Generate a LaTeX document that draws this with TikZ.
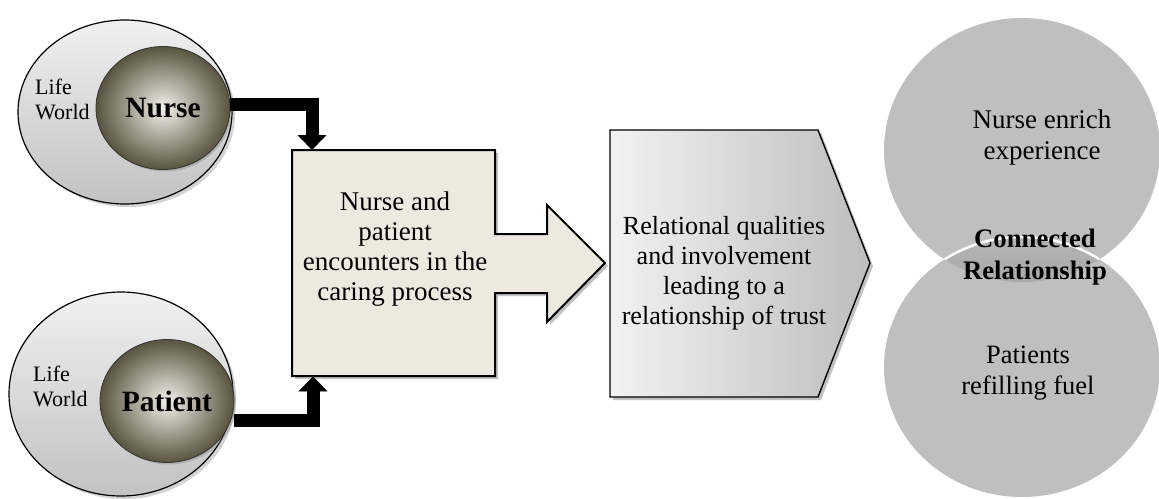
\documentclass[tikz,border=0pt]{standalone}
\usepackage{fontspec}
\setmainfont{Liberation Serif}
\usetikzlibrary{arrows.meta,calc,shapes.geometric,shadows}
\definecolor{boxfill}{HTML}{ECE9DF}
\definecolor{lwtop}{HTML}{F0F0F0}
\definecolor{lwbot}{HTML}{C2C2C2}
\definecolor{coreout}{HTML}{58543F}
\definecolor{corein}{HTML}{F2F1EA}
\definecolor{pentl}{HTML}{F2F2F2}
\definecolor{pentr}{HTML}{BDBDBD}
\definecolor{circ}{HTML}{BFBFBF}
\definecolor{lens}{HTML}{A2A2A2}
\begin{document}
\begin{tikzpicture}[x=1pt,y=-1pt,
  lifeworld/.style={ellipse, draw=black, line width=1.2pt, top color=lwtop, bottom color=lwbot,
     inner sep=0pt, drop shadow={shadow xshift=3pt, shadow yshift=-3pt, opacity=0.35}},
  core/.style={ellipse, draw=black!80, line width=0.8pt, inner color=corein, outer color=coreout,
     inner sep=0pt, minimum width=134pt, minimum height=123pt,
     font=\fontsize{29.5}{32}\selectfont\bfseries,
     drop shadow={shadow xshift=2pt, shadow yshift=-2pt, opacity=0.35}},
  lwtext/.style={font=\fontsize{22}{25}\selectfont, align=left, anchor=west, inner sep=0pt},
  body/.style={font=\fontsize{27}{30}\selectfont, align=center, inner sep=0pt},
  conn/.style={line width=13pt, line join=miter, -{Triangle[width=28pt,length=15pt]}},
  connshadow/.style={conn, draw=black!35, xshift=3pt, yshift=-3pt},
]
\useasboundingbox (0,0) rectangle (1159,498);

% ---- right circles ----
\fill[circ] (1022,150) ellipse [x radius=138, y radius=132];
\fill[circ] (1022,367) ellipse [x radius=138, y radius=130];
\begin{scope}
  \clip (1022,150) ellipse [x radius=138, y radius=132];
  \shade[top color=lens!80, bottom color=lens, middle color=black!42] (1022,367) ellipse [x radius=138, y radius=130];
  \draw[white, line width=2.5pt] (1022,367) ellipse [x radius=138, y radius=130];
\end{scope}
\node[body, font=\fontsize{27}{31}\selectfont] (enrich) at (1042,138) {Nurse enrich\\experience};
\node[body, font=\fontsize{26.7}{32}\selectfont\bfseries] (connected) at (1035,257) {Connected\\Relationship};
\node[body, font=\fontsize{26.5}{31}\selectfont] (refill) at (1028,373) {Patients\\refilling fuel};

% ---- life worlds ----
\node[lifeworld, minimum width=214pt, minimum height=184pt] (lwN) at (125,112) {};
\node[core] (nurse) at (163,108) {Nurse};
\node[lwtext] (lwNt) at (35,99) {Life\\World};

\node[lifeworld, minimum width=224pt, minimum height=204pt] (lwP) at (121,394) {};
\node[core] (patient) at (167,401) {Patient};
\node[lwtext] (lwPt) at (33,386) {Life\\World};

% ---- encounter box with arrow ----
\fill[black!40, opacity=0.6, xshift=3pt, yshift=-3pt]
  (292,150) -- (495,150) -- (495,234) -- (547,234) -- (547,205) -- (605,263)
  -- (547,322) -- (547,293) -- (495,293) -- (495,376) -- (292,376) -- cycle;
\draw[fill=boxfill, line width=2pt, line join=miter]
  (292,150) -- (495,150) -- (495,234) -- (547,234) -- (547,205) -- (605,263)
  -- (547,322) -- (547,293) -- (495,293) -- (495,376) -- (292,376) -- cycle;
\node[minimum width=203pt, minimum height=226pt, inner sep=0pt, anchor=north west] (box) at (292,150) {};
\node[body, font=\fontsize{27}{30}\selectfont] (enc) at (395,249) {Nurse and\\patient\\encounters in the\\caring process};

% ---- relational pentagon ----
\fill[black!40, opacity=0.6, xshift=3pt, yshift=-3pt]
  (610,130) -- (818,130) -- (870,263) -- (818,397) -- (610,397) -- cycle;
\shadedraw[left color=pentl, right color=pentr, draw=black, line width=1.4pt]
  (610,130) -- (818,130) -- (870,263) -- (818,397) -- (610,397) -- cycle;
\node[body, font=\fontsize{26.1}{30}\selectfont] (rel) at (724,273) {Relational qualities\\and involvement\\leading to a\\relationship of trust};

% ---- connectors ----
\coordinate (inN) at ($(box.north west)+(20,0)$);
\coordinate (inP) at ($(box.south west)+(21,0)$);
\draw[connshadow] ($(nurse.east)+(0,-4)$) -| (inN);
\draw[conn] ($(nurse.east)+(0,-4)$) -| (inN);
\draw[connshadow] ($(patient.east)+(0,19)$) -| (inP);
\draw[conn] ($(patient.east)+(0,19)$) -| (inP);
\end{tikzpicture}
\end{document}
